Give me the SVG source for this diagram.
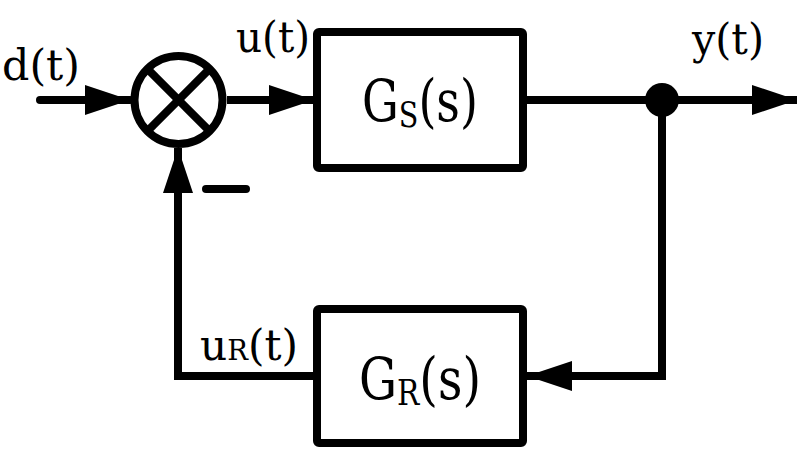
<svg xmlns="http://www.w3.org/2000/svg" width="800" height="450" viewBox="0 0 800 450">
<defs>
<style>
.ln{fill:none;stroke:#000;stroke-width:8;stroke-linejoin:miter}
.box{fill:#fff;stroke:#000;stroke-width:8;stroke-linejoin:round}
.t{font-family:"DejaVu Serif","Liberation Serif",serif;fill:#000}
</style>
<marker id="ah" viewBox="0 0 45 30" refX="45" refY="15" markerWidth="45" markerHeight="30" markerUnits="userSpaceOnUse" orient="auto">
<path d="M0,0 L45,15 L0,30 Z" fill="#000"/>
</marker>
</defs>
<rect width="800" height="450" fill="#fff"/>
<g id="connectors">
<line class="ln" x1="40" y1="100" x2="130" y2="100" stroke-linecap="round" marker-end="url(#ah)"/>
<line class="ln" x1="227" y1="100" x2="314" y2="100" marker-end="url(#ah)"/>
<line class="ln" x1="527" y1="100" x2="797" y2="100" marker-end="url(#ah)"/>
<polyline class="ln" points="662,100 662,376 527,376" marker-end="url(#ah)"/>
<polyline class="ln" points="313,376 178,376 178,148" marker-end="url(#ah)"/>
<circle cx="662" cy="100" r="17" fill="#000"/>
</g>
<g id="sum">
<circle cx="178.5" cy="100" r="44" fill="#fff" stroke="#000" stroke-width="8"/>
<line class="ln" x1="147.4" y1="68.9" x2="209.6" y2="131.1"/>
<line class="ln" x1="209.6" y1="68.9" x2="147.4" y2="131.1"/>
<line class="ln" x1="206" y1="189" x2="246" y2="189" stroke-linecap="round"/>
</g>
<g id="Gs">
<rect class="box" x="317" y="32" width="206" height="136" rx="2"/>
<text class="t" x="362" y="121" font-size="58" textLength="116" lengthAdjust="spacingAndGlyphs">G<tspan font-size="36" dy="6">S</tspan><tspan dy="-6">(s)</tspan></text>
</g>
<g id="Gr">
<rect class="box" x="317" y="309" width="206" height="134" rx="2"/>
<text class="t" x="359" y="399" font-size="58" textLength="122" lengthAdjust="spacingAndGlyphs">G<tspan font-size="36" dy="6">R</tspan><tspan dy="-6">(s)</tspan></text>
</g>
<g id="labels">
<text class="t" x="2" y="80" font-size="43" textLength="78" lengthAdjust="spacingAndGlyphs">d(t)</text>
<text class="t" x="236" y="52" font-size="43" textLength="74" lengthAdjust="spacingAndGlyphs">u(t)</text>
<text class="t" x="692" y="54" font-size="43" textLength="72" lengthAdjust="spacingAndGlyphs">y(t)</text>
<text class="t" x="200" y="360" font-size="43" textLength="98" lengthAdjust="spacingAndGlyphs">u<tspan font-size="28">R</tspan>(t)</text>
</g>
</svg>
